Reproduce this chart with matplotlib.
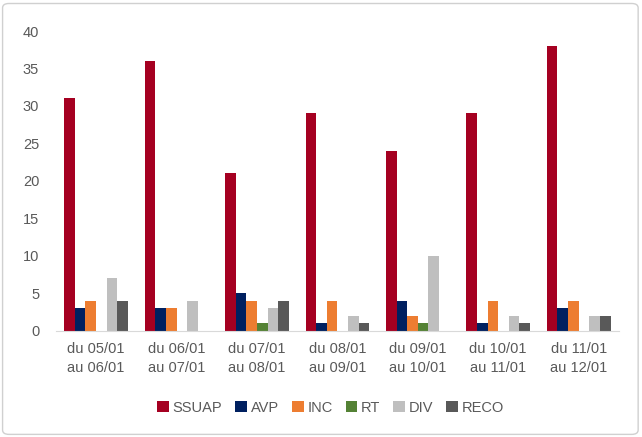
import matplotlib.pyplot as plt
import numpy as np
from matplotlib.patches import FancyBboxPatch

# Données
periodes = ["du 05/01\nau 06/01", "du 06/01\nau 07/01", "du 07/01\nau 08/01",
            "du 08/01\nau 09/01", "du 09/01\nau 10/01", "du 10/01\nau 11/01",
            "du 11/01\nau 12/01"]
ssuap = [31, 36, 21, 29, 24, 29, 38]
avp = [3, 3, 5, 1, 4, 1, 3]
inc = [4, 3, 4, 4, 2, 4, 4]
rt = [0, 0, 1, 0, 1, 0, 0]
div = [7, 4, 3, 2, 10, 2, 2]
reco = [4, 0, 4, 1, 0, 1, 2]

series = [("SSUAP", ssuap, "#A50021"), ("AVP", avp, "#002060"),
          ("INC", inc, "#ED7D31"), ("RT", rt, "#548235"),
          ("DIV", div, "#BFBFBF"), ("RECO", reco, "#595959")]

plt.rcParams['font.family'] = ['Liberation Sans', 'DejaVu Sans']

fig = plt.figure(figsize=(6.42, 4.37), dpi=100)
ax = fig.add_axes([0.087, 0.243, 0.877, 0.686])

# Cadre autour du graphique
fig.patches.append(FancyBboxPatch((0.004, 0.006), 0.99, 0.986, boxstyle="round,pad=0,rounding_size=0.01",
                                  transform=fig.transFigure, fill=False, edgecolor="#D0D0D0", lw=1))

x = np.arange(len(periodes))
width = 0.132
for i, (nom, vals, couleur) in enumerate(series):
    ax.bar(x + (i - 2.5) * width, vals, width, color=couleur, label=nom)

ax.set_xlim(-0.5, len(periodes) - 0.5)
ax.set_ylim(0, 40)
ax.set_yticks(range(0, 41, 5))
ax.set_xticks(x)
ax.set_xticklabels(periodes, fontsize=10.5, color="#595959", linespacing=1.5)
ax.tick_params(axis='y', labelsize=10.5, colors="#595959", length=0, pad=12)
ax.tick_params(axis='x', length=0, pad=8)

for s in ["top", "right", "left"]:
    ax.spines[s].set_visible(False)
ax.spines["bottom"].set_color("#D9D9D9")

fig.legend(loc="center", bbox_to_anchor=(0.515, 0.067), ncol=6, frameon=False,
           fontsize=10.5, handlelength=0.8, handleheight=0.8, handletextpad=0.25,
           columnspacing=0.9, labelcolor="#595959")

fig.savefig("out.png", dpi=100)
